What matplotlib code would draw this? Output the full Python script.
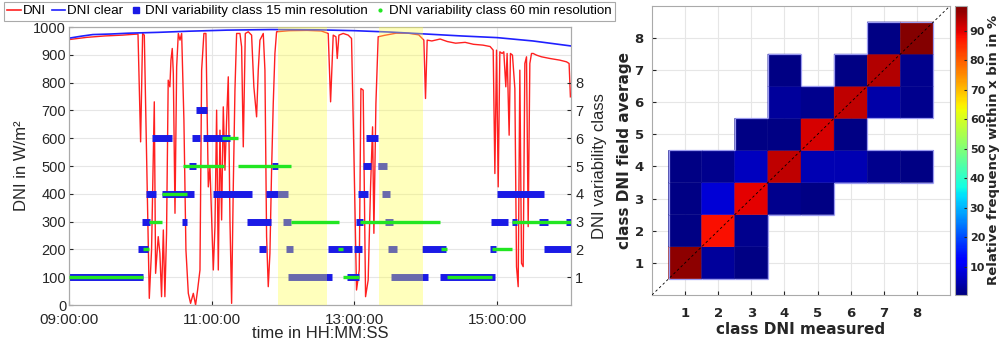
import matplotlib
matplotlib.use("Agg")
import matplotlib.pyplot as plt
from matplotlib.lines import Line2D
from matplotlib.collections import LineCollection
import numpy as np

plt.rcParams['font.family'] = ['Liberation Sans', 'DejaVu Sans']

# time in minutes after 09:00:00
dni_min = [0, 15, 30, 45, 58, 60.2, 61.9, 63.3, 67.5, 69.4, 71.7, 72.8, 75, 76.4, 77.8, 79.3, 80.6,
           82, 83.4, 84.8, 85.7, 86.8, 87.7, 89.1, 90.5, 91.9, 93.3, 94.7, 96.6, 98.3, 100.3, 102.2,
           104.5, 106.4, 108.1, 110.1, 111.5, 113.4, 115.1, 117.1, 118.5, 119.9, 121.3, 122.7, 124.1,
           125.5, 126.9, 128.3, 129.7, 131.1, 132.5, 133.9, 135.3, 136.7, 138.1, 139.5, 140.9, 143.7,
           145.1, 146.5, 148.2, 150.7, 153.5, 155.4, 157.7, 159.1, 160.5, 163.3, 164.7, 166.1, 167.5,
           168.9, 170.3, 171.7, 173.1, 174.5, 185, 200, 212, 217.9, 219.9, 222.1, 224.4, 225.5, 226.9,
           230.5, 234.7, 237.5, 239.5, 241.7, 244, 245.4, 247.3, 249.3, 251.5, 253.5, 255.2, 256.3,
           258, 259.9, 265, 275, 285, 294, 298.3, 299.7, 301.1, 305, 312, 318, 325, 333, 340, 348,
           354, 356.6, 358, 359.4, 360.8, 362.2, 364.1, 365.5, 367.2, 368.3, 370, 371.1, 372.8, 374.8,
           376.2, 377.6, 379, 380.4, 381.8, 383.2, 384.6, 386, 387.4, 388.8, 390.2, 393, 397.2, 404.2,
           412.6, 418.2, 420.4, 421.5]
dni_val = [955, 963, 968, 971, 975, 587, 977, 971, 24, 198, 731, 114, 246, 186, 30, 270, 30,
           258, 809, 785, 881, 923, 833, 330, 857, 977, 953, 977, 665, 198, 42, 6,
           42, 0, 54, 126, 845, 977, 977, 425, 497, 306, 126, 282, 701,
           126, 629, 306, 713, 485, 665, 821, 306, 6, 425, 773, 977, 977,
           929, 569, 977, 983, 971, 785, 677, 845, 953, 977, 845, 246, 66,
           186, 485, 725, 905, 983, 987, 988, 986, 977, 731, 971, 965, 887, 971,
           977, 971, 959, 545, 54, 126, 779, 773, 30, 90, 425, 641, 258,
           725, 965, 970, 978, 978, 972, 953, 743, 953, 950, 957, 948, 942, 945, 938, 935,
           930, 917, 473, 917, 425, 911, 905, 911, 785, 905, 611, 905, 899, 779,
           138, 66, 845, 150, 138, 869, 893, 282, 869, 905, 905, 899, 893, 887,
           881, 875, 869, 749]

clear_min = [0, 10, 20, 35, 50, 75, 100, 133, 170, 210, 240, 270, 300, 330, 360, 390, 422]
clear_val = [960, 967, 973, 975, 978, 981, 985, 989, 991, 990, 987, 982, 975, 968, 962, 950, 932]

# 15 min variability class segments: (start min, end min, class)
seg15_start = [0, 184, 234, 271, 312, 58, 160, 182, 218, 240, 268, 297, 354, 399,
               61, 95, 150, 180, 241, 266, 355, 372, 395, 418,
               65, 78, 121, 166, 243, 263, 360, 101, 171, 247, 260,
               70, 103, 113, 250, 107]
seg15_end = [62, 221, 244, 302, 358, 66, 166, 188, 238, 246, 276, 317, 359, 423,
             68, 99, 170, 187, 247, 272, 369, 377, 403, 424,
             73, 105, 154, 184, 251, 270, 399, 107, 176, 254, 267,
             87, 110, 135, 260, 116]
seg15_cls = [1, 1, 1, 1, 1, 2, 2, 2, 2, 2, 2, 2, 2, 2,
             3, 3, 3, 3, 3, 3, 3, 3, 3, 3,
             4, 4, 4, 4, 4, 4, 4, 5, 5, 5, 5,
             6, 6, 6, 6, 7]

# 60 min variability class segments
seg60_start = [0, 62, 67, 78, 96, 142, 129, 187, 245, 372, 226, 313, 356, 230, 318]
seg60_end = [62, 67, 78, 99, 130, 187, 142, 227, 312, 423, 230, 318, 372, 244, 356]
seg60_cls = [1, 2, 3, 4, 5, 5, 6, 3, 3, 3, 2, 2, 2, 1, 1]

shade_start = [175.6, 260.5]
shade_end = [217.0, 297.2]

time_ticks = [0, 120, 240, 360]
time_labels = ['09:00:00', '11:00:00', '13:00:00', '15:00:00']

# confusion matrix: rows = class field average (1..8), cols = class measured (1..8)
nan = np.nan
freq = np.array([
    [97, 3, 1, nan, nan, nan, nan, nan],
    [1, 88, 2, nan, nan, nan, nan, nan],
    [1, 8, 90, 2, 1, nan, nan, nan],
    [1, 2, 6, 93, 5, 5, 2, 1],
    [nan, nan, 1, 1, 91, 1, nan, nan],
    [nan, nan, nan, 3, 2, 93, 4, 2],
    [nan, nan, nan, 1, nan, 1, 94, 2],
    [nan, nan, nan, nan, nan, nan, 1, 98],
])
classes = [1, 2, 3, 4, 5, 6, 7, 8]
cbar_ticks = [10, 20, 30, 40, 50, 60, 70, 80, 90]

fig = plt.figure(figsize=(10, 3.47), dpi=100)
txt = '#262626'

# ---- left: time series ----
ax = fig.add_axes([0.069, 0.121, 0.502, 0.801])
ax.plot(dni_min, dni_val, color='#ff2020', lw=1.0, zorder=2)
ax.plot(clear_min, clear_val, color='#2020ff', lw=1.2, zorder=3)
ax.set_xlim(0, 422)
ax.set_ylim(0, 1000)
ax.set_yticks(range(0, 1001, 100))
ax.set_xticks(time_ticks)
ax.set_xticklabels(time_labels)
ax.grid(color='#e6e6e6', lw=0.8)
ax.set_axisbelow(True)
ax.tick_params(direction='in', length=3, labelsize=10.5, colors=txt, pad=2)
ax.tick_params(axis='x', labelsize=11, pad=6)
ax.set_ylabel('DNI in W/m²', fontsize=12, color=txt, labelpad=3)
ax.set_xlabel('time in HH:MM:SS', fontsize=12, color=txt, labelpad=-1)
for s in ax.spines.values():
    s.set_color('#aaaaaa')

ax2 = ax.twinx()
ax2.set_ylim(0, 10)
ax2.set_yticks(classes)
ax2.tick_params(direction='in', length=3, labelsize=10.5, colors=txt, pad=3)
ax2.set_ylabel('DNI variability class', fontsize=12, color=txt, labelpad=6)
for s in ax2.spines.values():
    s.set_color('#aaaaaa')
ax2.hlines(seg15_cls, seg15_start, seg15_end, color='#1a1ae6', lw=5.0, zorder=2)
for a, b in zip(shade_start, shade_end):
    ax2.axvspan(a, b, color='#ffff40', alpha=0.35, lw=0, zorder=3)
ax2.hlines(seg60_cls, seg60_start, seg60_end, color='#22e622', lw=2.4, zorder=4)

handles = [Line2D([], [], color='#ff2020', lw=1.2),
           Line2D([], [], color='#2020ff', lw=1.2),
           Line2D([], [], color='#1a1ae6', marker='s', ms=5, ls='None'),
           Line2D([], [], color='#22e622', marker='.', ms=4, ls='None')]
labels = ['DNI', 'DNI clear', 'DNI variability class 15 min resolution',
          'DNI variability class 60 min resolution']
leg = fig.legend(handles, labels, loc='upper left', bbox_to_anchor=(0.004, 0.995), ncol=4,
                 fontsize=9.6, handlelength=1.0, handletextpad=0.15, columnspacing=0.45,
                 borderpad=0.25, borderaxespad=0, fancybox=False, framealpha=1)
leg.get_frame().set_edgecolor('#aaaaaa')
leg.get_frame().set_linewidth(0.8)

# ---- right: class comparison ----
hx = fig.add_axes([0.652, 0.150, 0.298, 0.833])
edges = np.arange(0.5, 9.0, 1.0)
mesh = hx.pcolor(edges, edges, np.ma.masked_invalid(freq), cmap='jet', vmin=0.5, vmax=98.5,
                 edgecolor='face', linewidth=0.3, zorder=2)

# light outline around the filled region
filled = ~np.isnan(freq)
outline = []
n = filled.shape[0]
for r in range(n):
    for c in range(n):
        if not filled[r, c]:
            continue
        x0, y0 = c + 0.5, r + 0.5
        if r == 0 or not filled[r - 1, c]:
            outline.append([(x0, y0), (x0 + 1, y0)])
        if r == n - 1 or not filled[r + 1, c]:
            outline.append([(x0, y0 + 1), (x0 + 1, y0 + 1)])
        if c == 0 or not filled[r, c - 1]:
            outline.append([(x0, y0), (x0, y0 + 1)])
        if c == n - 1 or not filled[r, c + 1]:
            outline.append([(x0 + 1, y0), (x0 + 1, y0 + 1)])
hx.add_collection(LineCollection(outline, colors='#9a9af0', linewidths=0.9, zorder=2.5))

hx.plot([0, 9], [0, 9], color='black', ls='--', lw=0.6, dashes=(3, 3), zorder=3)
hx.set_xlim(0, 9)
hx.set_ylim(0, 9)
hx.set_xticks(classes)
hx.set_yticks(classes)
hx.grid(color='#e6e6e6', lw=0.8, zorder=0)
hx.set_axisbelow(True)
hx.tick_params(direction='in', length=3, labelsize=9.5, colors=txt)
hx.tick_params(axis='x', pad=9)
hx.tick_params(axis='y', pad=6)
for lab in hx.get_xticklabels() + hx.get_yticklabels():
    lab.set_fontweight('bold')
    lab.set_family('DejaVu Sans')
hx.set_xlabel('class DNI measured', fontsize=11, fontweight='bold', family='DejaVu Sans',
              color=txt, labelpad=1)
hx.set_ylabel('class DNI field average', fontsize=11, fontweight='bold', family='DejaVu Sans',
              color=txt, labelpad=2)
for s in hx.spines.values():
    s.set_color('#aaaaaa')

cax = fig.add_axes([0.955, 0.150, 0.012, 0.833])
cb = fig.colorbar(mesh, cax=cax, ticks=cbar_ticks)
cb.outline.set_edgecolor('#aaaaaa')
cax.tick_params(direction='in', length=2, labelsize=8, colors=txt, pad=2)
for lab in cax.get_yticklabels():
    lab.set_fontweight('bold')
    lab.set_family('DejaVu Sans')
cb.set_label('Relative frequency within x bin in %', fontsize=9.5, fontweight='bold',
             family='DejaVu Sans', color=txt, labelpad=1)

fig.savefig('out.png', dpi=100)
